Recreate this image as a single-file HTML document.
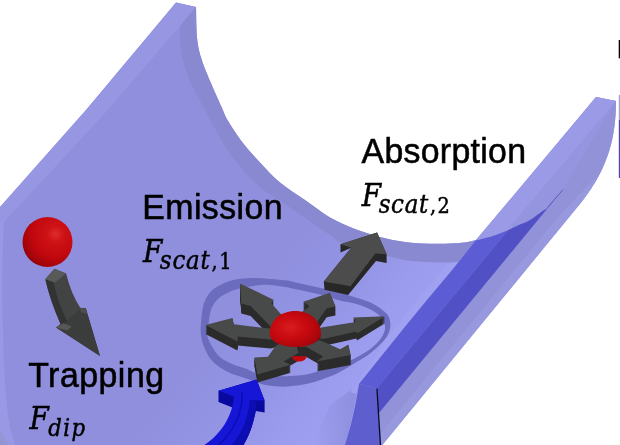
<!DOCTYPE html>
<html><head><meta charset="utf-8">
<style>
html,body{margin:0;padding:0;background:#fff;}
body{width:620px;height:445px;overflow:hidden;position:relative;}
svg{position:absolute;left:0;top:0;display:block;will-change:transform;}
.lab{font-family:"Liberation Sans",sans-serif;fill:#000;}
.mi{font-family:"Liberation Serif",serif;font-style:italic;fill:#000;}
.mr{font-family:"Liberation Serif",serif;fill:#000;}
.mi2{font-family:"DejaVu Serif Condensed","DejaVu Serif","Liberation Serif",serif;font-style:italic;fill:#000;}
.mr2{font-family:"DejaVu Serif Condensed","DejaVu Serif","Liberation Serif",serif;fill:#000;}
</style></head><body>
<svg width="620" height="445" viewBox="0 0 620 445">
<defs>
<radialGradient id="rs1" cx="0.66" cy="0.34" r="0.76">
<stop offset="0" stop-color="#de2c2c"/><stop offset="0.22" stop-color="#ce1216"/><stop offset="0.6" stop-color="#c2080e"/><stop offset="0.85" stop-color="#a5040a"/><stop offset="1" stop-color="#85030a"/>
</radialGradient>
<radialGradient id="rs2" cx="0.4" cy="0.45" r="0.7">
<stop offset="0" stop-color="#d81c1e"/><stop offset="0.45" stop-color="#c80a10"/><stop offset="0.85" stop-color="#a8050b"/><stop offset="1" stop-color="#80030a"/>
</radialGradient>
<linearGradient id="slabg" x1="292.6" y1="242" x2="404.3" y2="334.4" gradientUnits="userSpaceOnUse">
<stop offset="0" stop-color="#8f8fde"/><stop offset="0.5" stop-color="#9595e6"/><stop offset="0.8" stop-color="#9c9cef"/><stop offset="1" stop-color="#9f9ff1"/>
</linearGradient>
<linearGradient id="shd" x1="312" y1="0" x2="352" y2="0" gradientUnits="userSpaceOnUse">
<stop offset="0" stop-color="#9090e0" stop-opacity="0"/><stop offset="1" stop-color="#9090e0" stop-opacity="1"/>
</linearGradient>
</defs>

<path d="M176,2.5 L196,7 C196.2,12.1 196.2,29.1 197.0,37.5 C197.8,45.9 199.2,51.2 201.0,57.5 C202.8,63.8 205.2,69.2 207.5,75.0 C209.8,80.8 212.6,87.0 215.0,92.5 C217.4,98.0 219.9,103.4 222.0,108.0 C224.1,112.6 224.1,114.2 227.5,120.0 C230.9,125.8 237.1,135.4 242.5,142.5 C247.9,149.6 253.8,155.8 260.0,162.5 C266.2,169.2 272.5,176.2 280.0,182.5 C287.5,188.8 296.7,194.2 305.0,200.0 C313.3,205.8 321.7,212.7 330.0,217.5 C338.3,222.3 346.7,225.8 355.0,229.0 C363.3,232.2 371.7,234.8 380.0,237.0 C388.3,239.2 396.7,240.9 405.0,242.0 C413.3,243.1 421.8,243.6 430.0,243.8 C438.2,244.0 448.0,243.5 454.0,243.2 C460.0,242.9 462.4,242.7 466.0,242.2 C469.6,241.7 474.2,240.6 475.8,240.3 L596,97 L616,101 C616,135 609,168 582,201 L382.0,445.0 L0,445 L0,207 L86,110 Z" fill="url(#slabg)"/>
<path d="M176,2.5 L196,7 L180,26 L107,111 L4,222 L0,226 L0,207 L86,110 Z" fill="#9696e3"/>
<path d="M0,222 L3.8,222 C2,260 2,300 3,330 C3.5,360 5,400 10,428 L15.5,445 L0,445 Z" fill="#9898e5"/>
<path d="M0,430 L9,445 L0,445 Z" fill="#9595d6"/>
<path d="M196,7 C196.2,12.1 196.2,29.1 197.0,37.5 C197.8,45.9 199.2,51.2 201.0,57.5 C202.8,63.8 205.2,69.2 207.5,75.0 C209.8,80.8 212.6,87.0 215.0,92.5 C217.4,98.0 219.9,103.4 222.0,108.0 C224.1,112.6 224.1,114.2 227.5,120.0 C230.9,125.8 237.1,135.4 242.5,142.5 C247.9,149.6 253.8,155.8 260.0,162.5 C266.2,169.2 272.5,176.2 280.0,182.5 C287.5,188.8 296.7,194.2 305.0,200.0 C313.3,205.8 321.7,212.7 330.0,217.5 C338.3,222.3 346.7,225.8 355.0,229.0 C363.3,232.2 371.7,234.8 380.0,237.0 C388.3,239.2 396.7,240.9 405.0,242.0 C413.3,243.1 421.8,243.6 430.0,243.8 C438.2,244.0 448.0,243.5 454.0,243.2 C460.0,242.9 462.4,242.7 466.0,242.2 C469.6,241.7 474.2,240.6 475.8,240.3 L458.5,262.0 C456.6,262.1 451.9,262.4 447.0,262.5 C442.1,262.6 436.4,262.7 429.4,262.3 C422.4,261.9 412.0,261.2 405.0,260.2 C398.0,259.1 394.1,257.7 387.4,256.0 C380.7,254.3 372.9,252.3 365.0,250.0 C357.1,247.7 345.7,244.4 340.0,242.0 C334.3,239.6 336.3,239.2 331.0,235.5 C325.7,231.8 315.7,225.2 308.0,220.0 C300.3,214.8 292.5,209.1 285.0,204.0 C277.5,198.9 269.7,194.8 263.0,189.5 C256.3,184.2 250.9,179.1 245.0,172.5 C239.1,165.9 232.8,157.9 227.5,150.0 C222.2,142.1 216.8,131.8 213.0,125.0 C209.2,118.2 207.2,114.0 204.5,109.0 C201.8,104.0 199.8,100.7 197.0,95.0 C194.2,89.3 190.2,82.5 187.5,75.0 C184.8,67.5 182.2,58.2 181.0,50.0 C179.8,41.8 180.2,30.0 180.0,26.0 Z" fill="#8989d1"/>
<path d="M359,384 L346,445 L312,445 L330,405 Z" fill="url(#shd)"/>
<path d="M458.5,262 L402.4,330 L359,384 L356,394 L350,392 L393,330 L447,264 Z" fill="#a1a1f2"/>
<path d="M596,97 L616,101 C616,135 609,168 582,201 L382,445 L380.5,445 L376.7,388.5 L359,384 L402.4,330 L427,300 L452.2,270 L475.8,240.3 L510.5,200 Z" fill="#9292d9"/>
<path d="M599.0,174.0 L591.0,189.0 L582.5,201.0 L382.5,445.0 L371.0,445.0 L559.7,215.0 Z" fill="#9898de"/>
<path d="M616.0,101.0 L563.0,189.6 L547.5,207.5 L530.0,220.0 L518.3,225.3 L510.6,226.0 Z" fill="#9595df"/>
<path d="M596,97 L616,101 L510.6,226.0 C516.6,226.1 512.0,228.6 508.0,230.3 C504.0,232.0 498.4,234.2 494.4,235.5 C490.4,236.8 487.1,237.6 484.0,238.4 C480.9,239.2 477.2,240.0 475.8,240.3 Z" fill="#9a9ae6"/>
<path d="M475.8,240.3 C477.2,240.0 480.9,239.2 484.0,238.4 C487.1,237.6 490.4,236.8 494.4,235.5 C498.4,234.2 505.7,231.2 508.0,230.3 L376.7,388.5 L359,384 L402.4,330 L427,300 L452.2,270 Z" fill="#5c5cd5"/>
<path d="M563,189.6 C560.4,192.6 550.7,204.1 547.5,207.5 C544.3,210.9 546.9,207.9 544.0,210.0 C541.1,212.1 534.3,217.4 530.0,220.0 C525.7,222.6 522.0,223.6 518.3,225.3 C514.6,227.0 509.7,229.5 508.0,230.3 L376.7,388.5 L378.4,413.7 Z" fill="#5151c5"/>
<path d="M563,189.6 L547.5,207.5" stroke="#5a5ac0" stroke-width="0.9" fill="none"/>
<path d="M359,384 L376.7,388.5 L380.5,445 L345,445 C350,430 356,405 359,384 Z" fill="#5e5ece"/>
<path d="M376.9,388.5 L380.5,445" stroke="#0a0a20" stroke-width="1.3" fill="none"/>
<rect x="618.7" y="40" width="1.3" height="18.3" fill="#000"/>
<rect x="618.8" y="95" width="1.2" height="25" fill="#a0a0e0"/>
<rect x="618.8" y="120" width="1.2" height="58" fill="#5046c0"/>
<path d="M201.0,323.2 C201.4,318.3 201.9,310.5 203.3,305.5 C204.7,300.5 206.7,296.4 209.5,293.0 C212.3,289.6 216.0,287.2 220.2,285.0 C224.3,282.8 229.1,281.0 234.4,279.8 C239.7,278.6 246.1,278.1 252.0,278.0 C257.9,277.9 263.9,278.5 269.8,278.9 C275.7,279.3 282.6,279.8 287.6,280.6 C292.6,281.4 295.2,282.5 300.0,283.6 C304.8,284.7 310.4,285.8 316.2,287.1 C322.0,288.4 328.4,289.8 335.0,291.5 C341.6,293.2 349.6,295.5 355.7,297.4 C361.8,299.3 367.0,300.8 371.5,302.9 C376.0,305.0 379.6,307.6 382.5,310.0 C385.4,312.4 387.5,314.2 388.8,317.0 C390.1,319.8 390.6,323.4 390.3,326.5 C390.0,329.6 389.0,332.8 387.2,335.9 C385.4,339.0 382.4,342.1 379.3,345.3 C376.2,348.5 372.2,351.9 368.3,354.8 C364.4,357.7 360.7,359.6 355.7,362.6 C350.7,365.6 344.1,369.9 338.5,372.7 C332.9,375.5 327.8,377.3 322.4,379.2 C317.0,381.1 311.6,382.8 306.2,384.0 C300.8,385.2 294.6,385.8 290.0,386.2 C285.4,386.6 283.1,386.9 278.5,386.6 C273.9,386.3 267.8,385.6 262.4,384.2 C257.0,382.8 251.7,380.5 246.0,378.5 C240.3,376.5 233.5,374.8 228.0,372.0 C222.5,369.2 216.7,365.4 212.8,361.5 C208.9,357.6 206.7,352.9 204.7,348.5 C202.7,344.1 201.6,339.2 201.0,335.0 C200.4,330.8 200.6,328.1 201.0,323.2 Z M208.6,323.0 C209.3,319.2 209.7,313.1 211.3,309.0 C212.9,304.9 215.5,301.2 218.4,298.4 C221.3,295.6 225.4,293.8 229.0,292.2 C232.6,290.6 234.4,289.8 239.7,288.6 C245.0,287.4 254.5,285.4 261.0,285.0 C267.5,284.6 272.2,285.2 278.7,286.0 C285.2,286.8 293.1,288.6 300.0,290.0 C306.9,291.4 313.3,292.8 320.0,294.5 C326.7,296.2 334.1,299.0 340.0,300.5 C345.9,302.0 350.4,302.1 355.7,303.7 C360.9,305.3 367.3,307.8 371.5,310.0 C375.7,312.2 378.7,314.5 380.9,317.0 C383.1,319.5 384.3,322.3 384.8,324.9 C385.3,327.5 385.2,329.9 384.0,332.8 C382.8,335.7 380.7,339.1 377.8,342.2 C374.9,345.3 370.9,348.7 366.7,351.6 C362.5,354.5 357.9,357.0 352.6,359.5 C347.3,362.0 341.1,364.4 335.0,366.5 C328.9,368.6 320.8,370.7 316.0,372.0 C311.2,373.3 310.5,373.7 306.2,374.4 C301.9,375.1 295.2,375.7 290.0,376.0 C284.8,376.3 280.7,376.5 275.0,376.0 C269.3,375.5 260.8,374.1 256.0,372.9 C251.2,371.7 250.2,370.3 246.2,368.8 C242.2,367.3 236.7,366.0 232.2,364.0 C227.7,362.0 223.1,360.3 219.3,356.6 C215.5,352.9 211.7,346.1 209.6,342.0 C207.5,337.9 207.2,335.2 207.0,332.0 C206.8,328.8 207.9,326.8 208.6,323.0 Z" fill="#6c6cbe" fill-rule="evenodd"/>
<circle cx="47.5" cy="242" r="25" fill="url(#rs1)"/>
<path d="M54.4,268.8 L66.1,273.6 Q71,294 80.7,308.6 L85.7,308 L100,356 L56,327.4 L60.5,324 Q50,300 45.3,279.3 Z" fill="#424444"/>
<path d="M56,327.4 L63.5,323.4 L80.7,308.6 L85.7,308 L100,356 Z" fill="#3b3c3c"/>
<path d="M45.3,279.3 L53.5,282 Q58,304 67.5,321.5 L60.5,324 Q50,300 45.3,279.3 Z" fill="#323333"/>
<path d="M54.4,268.8 L66.1,273.6 L55,282.6 L45.3,279.3 Z" fill="#585a5a"/>
<path d="M56,327.4 L63.5,323.4 L71.6,326.4 L67.5,330.5 Z" fill="#565858"/>
<path d="M79.7,307.8 L85.7,308 L86.9,314 L80.9,312.2 Z" fill="#4c4e4e"/>
<path d="M240.0,293.5 L273.5,309.7 L271.5,313.6 L282.2,325.4 L295.5,343.0 L272.0,338.0 L250.7,316.0 L241.3,313.6 Z" fill="#2c2c2c"/>
<path d="M240.0,292.5 L273.5,308.7 L271.5,312.6 L282.2,324.4 L295.5,342.0 L272.0,337.0 L250.7,315.0 L241.3,312.6 Z" fill="#2c2c2c"/>
<path d="M240.0,291.5 L273.5,307.7 L271.5,311.6 L282.2,323.4 L295.5,341.0 L272.0,336.0 L250.7,314.0 L241.3,311.6 Z" fill="#2c2c2c"/>
<path d="M240.0,290.5 L273.5,306.7 L271.5,310.6 L282.2,322.4 L295.5,340.0 L272.0,335.0 L250.7,313.0 L241.3,310.6 Z" fill="#2c2c2c"/>
<path d="M240.0,289.5 L273.5,305.7 L271.5,309.6 L282.2,321.4 L295.5,339.0 L272.0,334.0 L250.7,312.0 L241.3,309.6 Z" fill="#2c2c2c"/>
<path d="M240.0,288.5 L273.5,304.7 L271.5,308.6 L282.2,320.4 L295.5,338.0 L272.0,333.0 L250.7,311.0 L241.3,308.6 Z" fill="#2c2c2c"/>
<path d="M240.0,287.5 L273.5,303.7 L271.5,307.6 L282.2,319.4 L295.5,337.0 L272.0,332.0 L250.7,310.0 L241.3,307.6 Z" fill="#2c2c2c"/>
<path d="M240.0,286.5 L273.5,302.7 L271.5,306.6 L282.2,318.4 L295.5,336.0 L272.0,331.0 L250.7,309.0 L241.3,306.6 Z" fill="#2c2c2c"/>
<path d="M240.0,285.5 L273.5,301.7 L271.5,305.6 L282.2,317.4 L295.5,335.0 L272.0,330.0 L250.7,308.0 L241.3,305.6 Z" fill="#2c2c2c"/>
<path d="M240.0,284.5 L273.5,300.7 L271.5,304.6 L282.2,316.4 L295.5,334.0 L272.0,329.0 L250.7,307.0 L241.3,304.6 Z" fill="#2c2c2c"/>
<path d="M240.0,283.5 L273.5,299.7 L271.5,303.6 L282.2,315.4 L295.5,333.0 L272.0,328.0 L250.7,306.0 L241.3,303.6 Z" fill="#484a4a"/>
<path d="M329.9,301.8 L335.6,315.6 L326.7,317.2 L316.5,331.7 L295.5,342.0 L300.3,322.0 L309.7,315.6 L303.2,310.7 Z" fill="#2c2c2c"/>
<path d="M329.9,300.8 L335.6,314.6 L326.7,316.2 L316.5,330.7 L295.5,341.0 L300.3,321.0 L309.7,314.6 L303.2,309.7 Z" fill="#2c2c2c"/>
<path d="M329.9,299.8 L335.6,313.6 L326.7,315.2 L316.5,329.7 L295.5,340.0 L300.3,320.0 L309.7,313.6 L303.2,308.7 Z" fill="#2c2c2c"/>
<path d="M329.9,298.8 L335.6,312.6 L326.7,314.2 L316.5,328.7 L295.5,339.0 L300.3,319.0 L309.7,312.6 L303.2,307.7 Z" fill="#2c2c2c"/>
<path d="M329.9,297.8 L335.6,311.6 L326.7,313.2 L316.5,327.7 L295.5,338.0 L300.3,318.0 L309.7,311.6 L303.2,306.7 Z" fill="#2c2c2c"/>
<path d="M329.9,296.8 L335.6,310.6 L326.7,312.2 L316.5,326.7 L295.5,337.0 L300.3,317.0 L309.7,310.6 L303.2,305.7 Z" fill="#2c2c2c"/>
<path d="M329.9,295.8 L335.6,309.6 L326.7,311.2 L316.5,325.7 L295.5,336.0 L300.3,316.0 L309.7,309.6 L303.2,304.7 Z" fill="#2c2c2c"/>
<path d="M329.9,294.8 L335.6,308.6 L326.7,310.2 L316.5,324.7 L295.5,335.0 L300.3,315.0 L309.7,308.6 L303.2,303.7 Z" fill="#2c2c2c"/>
<path d="M329.9,293.8 L335.6,307.6 L326.7,309.2 L316.5,323.7 L295.5,334.0 L300.3,314.0 L309.7,307.6 L303.2,302.7 Z" fill="#2c2c2c"/>
<path d="M329.9,292.8 L335.6,306.6 L326.7,308.2 L316.5,322.7 L295.5,333.0 L300.3,313.0 L309.7,306.6 L303.2,301.7 Z" fill="#484a4a"/>
<path d="M205.5,334.1 L232.5,327.1 L233.8,333.3 L270.0,337.5 L295.5,342.0 L271.0,348.6 L237.9,345.4 L237.4,350.5 Z" fill="#2c2c2c"/>
<path d="M205.5,333.1 L232.5,326.1 L233.8,332.3 L270.0,336.5 L295.5,341.0 L271.0,347.6 L237.9,344.4 L237.4,349.5 Z" fill="#2c2c2c"/>
<path d="M205.5,332.1 L232.5,325.1 L233.8,331.3 L270.0,335.5 L295.5,340.0 L271.0,346.6 L237.9,343.4 L237.4,348.5 Z" fill="#2c2c2c"/>
<path d="M205.5,331.1 L232.5,324.1 L233.8,330.3 L270.0,334.5 L295.5,339.0 L271.0,345.6 L237.9,342.4 L237.4,347.5 Z" fill="#2c2c2c"/>
<path d="M205.5,330.1 L232.5,323.1 L233.8,329.3 L270.0,333.5 L295.5,338.0 L271.0,344.6 L237.9,341.4 L237.4,346.5 Z" fill="#2c2c2c"/>
<path d="M205.5,329.1 L232.5,322.1 L233.8,328.3 L270.0,332.5 L295.5,337.0 L271.0,343.6 L237.9,340.4 L237.4,345.5 Z" fill="#2c2c2c"/>
<path d="M205.5,328.1 L232.5,321.1 L233.8,327.3 L270.0,331.5 L295.5,336.0 L271.0,342.6 L237.9,339.4 L237.4,344.5 Z" fill="#2c2c2c"/>
<path d="M205.5,327.1 L232.5,320.1 L233.8,326.3 L270.0,330.5 L295.5,335.0 L271.0,341.6 L237.9,338.4 L237.4,343.5 Z" fill="#2c2c2c"/>
<path d="M205.5,326.1 L232.5,319.1 L233.8,325.3 L270.0,329.5 L295.5,334.0 L271.0,340.6 L237.9,337.4 L237.4,342.5 Z" fill="#2c2c2c"/>
<path d="M205.5,325.1 L232.5,318.1 L233.8,324.3 L270.0,328.5 L295.5,333.0 L271.0,339.6 L237.9,336.4 L237.4,341.5 Z" fill="#484a4a"/>
<path d="M385.0,323.3 L357.0,340.5 L356.5,338.5 L323.0,346.0 L295.5,340.0 L321.3,334.5 L355.8,328.9 L353.4,324.4 Z" fill="#2c2c2c"/>
<path d="M385.0,322.3 L357.0,339.5 L356.5,337.5 L323.0,345.0 L295.5,339.0 L321.3,333.5 L355.8,327.9 L353.4,323.4 Z" fill="#2c2c2c"/>
<path d="M385.0,321.3 L357.0,338.5 L356.5,336.5 L323.0,344.0 L295.5,338.0 L321.3,332.5 L355.8,326.9 L353.4,322.4 Z" fill="#2c2c2c"/>
<path d="M385.0,320.3 L357.0,337.5 L356.5,335.5 L323.0,343.0 L295.5,337.0 L321.3,331.5 L355.8,325.9 L353.4,321.4 Z" fill="#2c2c2c"/>
<path d="M385.0,319.3 L357.0,336.5 L356.5,334.5 L323.0,342.0 L295.5,336.0 L321.3,330.5 L355.8,324.9 L353.4,320.4 Z" fill="#2c2c2c"/>
<path d="M385.0,318.3 L357.0,335.5 L356.5,333.5 L323.0,341.0 L295.5,335.0 L321.3,329.5 L355.8,323.9 L353.4,319.4 Z" fill="#2c2c2c"/>
<path d="M385.0,317.3 L357.0,334.5 L356.5,332.5 L323.0,340.0 L295.5,334.0 L321.3,328.5 L355.8,322.9 L353.4,318.4 Z" fill="#2c2c2c"/>
<path d="M385.0,316.3 L357.0,333.5 L356.5,331.5 L323.0,339.0 L295.5,333.0 L321.3,327.5 L355.8,321.9 L353.4,317.4 Z" fill="#484a4a"/>
<path d="M257.5,382.5 L254.3,365.5 L268.0,364.7 L275.3,354.2 L295.5,341.0 L300.0,360.0 L283.4,369.6 L290.7,372.8 Z" fill="#2c2c2c"/>
<path d="M257.5,381.5 L254.3,364.5 L268.0,363.7 L275.3,353.2 L295.5,340.0 L300.0,359.0 L283.4,368.6 L290.7,371.8 Z" fill="#2c2c2c"/>
<path d="M257.5,380.5 L254.3,363.5 L268.0,362.7 L275.3,352.2 L295.5,339.0 L300.0,358.0 L283.4,367.6 L290.7,370.8 Z" fill="#2c2c2c"/>
<path d="M257.5,379.5 L254.3,362.5 L268.0,361.7 L275.3,351.2 L295.5,338.0 L300.0,357.0 L283.4,366.6 L290.7,369.8 Z" fill="#2c2c2c"/>
<path d="M257.5,378.5 L254.3,361.5 L268.0,360.7 L275.3,350.2 L295.5,337.0 L300.0,356.0 L283.4,365.6 L290.7,368.8 Z" fill="#2c2c2c"/>
<path d="M257.5,377.5 L254.3,360.5 L268.0,359.7 L275.3,349.2 L295.5,336.0 L300.0,355.0 L283.4,364.6 L290.7,367.8 Z" fill="#2c2c2c"/>
<path d="M257.5,376.5 L254.3,359.5 L268.0,358.7 L275.3,348.2 L295.5,335.0 L300.0,354.0 L283.4,363.6 L290.7,366.8 Z" fill="#2c2c2c"/>
<path d="M257.5,375.5 L254.3,358.5 L268.0,357.7 L275.3,347.2 L295.5,334.0 L300.0,353.0 L283.4,362.6 L290.7,365.8 Z" fill="#2c2c2c"/>
<path d="M257.5,374.5 L254.3,357.5 L268.0,356.7 L275.3,346.2 L295.5,333.0 L300.0,352.0 L283.4,361.6 L290.7,364.8 Z" fill="#484a4a"/>
<path d="M350.7,364.9 L316.7,371.4 L323.2,366.6 L306.0,356.8 L300.0,357.0 L295.5,343.0 L322.4,351.2 L340.2,359.3 L348.3,354.4 Z" fill="#2c2c2c"/>
<path d="M350.7,363.9 L316.7,370.4 L323.2,365.6 L306.0,355.8 L300.0,356.0 L295.5,342.0 L322.4,350.2 L340.2,358.3 L348.3,353.4 Z" fill="#2c2c2c"/>
<path d="M350.7,362.9 L316.7,369.4 L323.2,364.6 L306.0,354.8 L300.0,355.0 L295.5,341.0 L322.4,349.2 L340.2,357.3 L348.3,352.4 Z" fill="#2c2c2c"/>
<path d="M350.7,361.9 L316.7,368.4 L323.2,363.6 L306.0,353.8 L300.0,354.0 L295.5,340.0 L322.4,348.2 L340.2,356.3 L348.3,351.4 Z" fill="#2c2c2c"/>
<path d="M350.7,360.9 L316.7,367.4 L323.2,362.6 L306.0,352.8 L300.0,353.0 L295.5,339.0 L322.4,347.2 L340.2,355.3 L348.3,350.4 Z" fill="#2c2c2c"/>
<path d="M350.7,359.9 L316.7,366.4 L323.2,361.6 L306.0,351.8 L300.0,352.0 L295.5,338.0 L322.4,346.2 L340.2,354.3 L348.3,349.4 Z" fill="#2c2c2c"/>
<path d="M350.7,358.9 L316.7,365.4 L323.2,360.6 L306.0,350.8 L300.0,351.0 L295.5,337.0 L322.4,345.2 L340.2,353.3 L348.3,348.4 Z" fill="#2c2c2c"/>
<path d="M350.7,357.9 L316.7,364.4 L323.2,359.6 L306.0,349.8 L300.0,350.0 L295.5,336.0 L322.4,344.2 L340.2,352.3 L348.3,347.4 Z" fill="#2c2c2c"/>
<path d="M350.7,356.9 L316.7,363.4 L323.2,358.6 L306.0,348.8 L300.0,349.0 L295.5,335.0 L322.4,343.2 L340.2,351.3 L348.3,346.4 Z" fill="#2c2c2c"/>
<path d="M350.7,355.9 L316.7,362.4 L323.2,357.6 L306.0,347.8 L300.0,348.0 L295.5,334.0 L322.4,342.2 L340.2,350.3 L348.3,345.4 Z" fill="#2c2c2c"/>
<path d="M350.7,354.9 L316.7,361.4 L323.2,356.6 L306.0,346.8 L300.0,347.0 L295.5,333.0 L322.4,341.2 L340.2,349.3 L348.3,344.4 Z" fill="#484a4a"/>
<path d="M291.5,356.3 L307,356.3 Q305,361.6 299,361.6 Q293.5,361.6 291.5,356.3 Z" fill="#c0080e"/>
<path d="M269.6,334 C269.6,320 281,311 295.3,311 C309.6,311 321,320 321,334.5 C321,341 310,347 295.5,347 C281,347 269.6,341 269.6,334 Z" fill="url(#rs2)"/>
<path d="M377.1,232.5 L386.6,254.3 L386.6,263.1 L376,261 L348.1,295.1 L324.5,289.8 L323.8,281.4 L351.2,247.7 L340.5,252.5 L340.5,244.2 Z" fill="#272727"/>
<path d="M377.1,232.5 L386.6,254.3 L375.3,253.4 L350.5,286.2 L323.8,281.4 L351.2,247.7 L340.5,244.2 Z" fill="#4c4c4c"/>
<path d="M256.5,379.5 L218.5,390.8 L218.5,402.1 L233,407.8 C231,420 222,434 204.7,445 L243.5,445 C249,436 253,425 255.7,411 L264.6,412.6 L264.6,400.5 Z" fill="#0909a0"/>
<path d="M256.5,379.5 L218.5,390.8 L234,396.5 C233,412 224,432 204.7,445 L232,445 C243,432 249,416 250,400 L264.6,400.5 Z" fill="#1616d6"/>
<path d="M250,400 C249,416 243,432 232,445 L243.5,445 C249,436 253,425 255.7,411 L256.5,400.3 Z" fill="#0d0db4"/>
<path d="M242,392 C243,410 236,428 219,445" stroke="#0c0cb8" stroke-width="1.5" fill="none"/>
<text class="lab" transform="translate(142.3,219.0) scale(0.985,1)" font-size="34.4" letter-spacing="0.42" stroke="#000" stroke-width="0.55">Emission</text>
<text x="143" y="261.7" font-size="31" stroke="#000" stroke-width="0.45"><tspan class="mi2">F</tspan><tspan class="mi2" font-size="25.5" dx="-2.5" dy="7.4" letter-spacing="0.8">scat</tspan><tspan class="mr2" font-size="21.5" dx="1" letter-spacing="1.5">,1</tspan></text>
<text class="lab" transform="translate(361.5,163.4) scale(0.985,1)" font-size="34.4" letter-spacing="0.3" stroke="#000" stroke-width="0.55">Absorption</text>
<text x="361.8" y="206.3" font-size="31" stroke="#000" stroke-width="0.45"><tspan class="mi2">F</tspan><tspan class="mi2" font-size="25.5" dx="-2.5" dy="6.6" letter-spacing="0.7">scat</tspan><tspan class="mr2" font-size="21.5" dx="1" letter-spacing="1.5">,2</tspan></text>
<text class="lab" transform="translate(28.2,386.5) scale(0.985,1)" font-size="34.4" letter-spacing="0.5" stroke="#000" stroke-width="0.55">Trapping</text>
<text x="29.5" y="429.3" font-size="31" stroke="#000" stroke-width="0.45"><tspan class="mi2">F</tspan><tspan class="mi2" font-size="23.5" dx="-0.5" dy="6.3" letter-spacing="1.4">dip</tspan><tspan class="mr2" font-size="21.5" dx="1" letter-spacing="1.5"></tspan></text>
</svg>
</body></html>
